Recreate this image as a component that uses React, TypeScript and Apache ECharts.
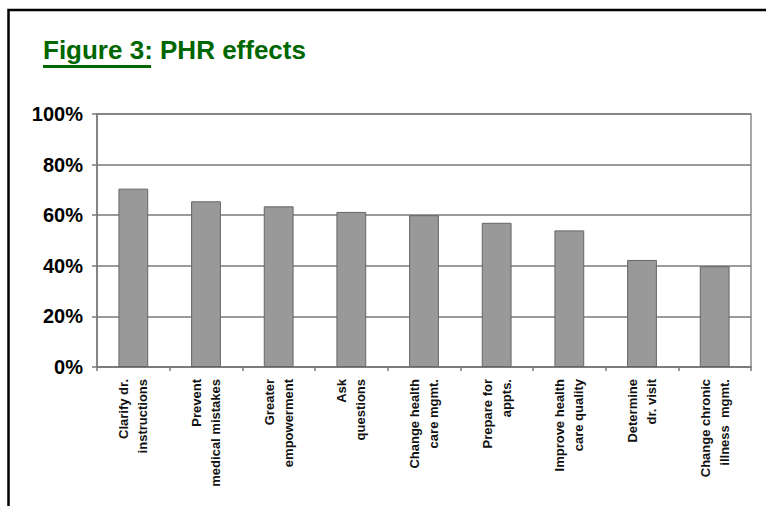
import React, { useEffect, useRef } from "react";
import * as echarts from "echarts";

const categories: string[] = [
  "Clarify dr.\ninstructions",
  "Prevent\nmedical mistakes",
  "Greater\nempowerment",
  "Ask\nquestions",
  "Change health\ncare mgmt.",
  "Prepare for\nappts.",
  "Improve health\ncare quality",
  "Determine\ndr. visit",
  "Change chronic\nillness  mgmt.",
];

const values: number[] = [70.5, 65.5, 63.5, 61.3, 60, 57, 54, 42.3, 39.8];

const yTicks = { min: 0, max: 100, interval: 20 };

const titleMain = "Figure 3:";
const titleRest = " PHR effects";

export default function App() {
  const ref = useRef<HTMLDivElement>(null);

  useEffect(() => {
    document.body.style.margin = "0";
    if (!ref.current) return;
    const chart = echarts.init(ref.current, undefined, { renderer: "svg" });
    const green = "#006600";
    chart.setOption({
      animation: false,
      backgroundColor: "#ffffff",
      grid: {
        left: 97,
        right: 15,
        top: 114,
        bottom: 139,
        show: true,
        borderColor: "#8a8a8a",
        borderWidth: 1.5,
        backgroundColor: "transparent",
      },
      xAxis: {
        type: "category",
        data: categories,
        boundaryGap: true,
        axisLine: { show: true, lineStyle: { color: "#7a7a7a", width: 1.5 } },
        axisTick: { show: true, length: 4, lineStyle: { color: "#7a7a7a", width: 1.5 } },
        axisLabel: {
          interval: 0,
          rotate: 90,
          margin: 12,
          fontFamily: "Liberation Sans, Arial, sans-serif",
          fontSize: 13,
          fontWeight: "bold",
          lineHeight: 19,
          color: "#111111",
        },
      },
      yAxis: {
        type: "value",
        min: yTicks.min,
        max: yTicks.max,
        interval: yTicks.interval,
        axisLine: { show: true, lineStyle: { color: "#7a7a7a", width: 1.5 } },
        axisTick: { show: true, length: 5, lineStyle: { color: "#7a7a7a", width: 1.5 } },
        splitLine: { show: true, lineStyle: { color: "#7a7a7a", width: 1.5 } },
        axisLabel: {
          formatter: "{value}%",
          margin: 14,
          fontFamily: "Liberation Sans, Arial, sans-serif",
          fontSize: 20,
          fontWeight: "bold",
          color: "#000000",
        },
      },
      series: [
        {
          type: "bar",
          data: values,
          barWidth: "41%",
          itemStyle: { color: "#999999", borderColor: "#666666", borderWidth: 1 },
        },
      ],
      graphic: [
        {
          type: "polyline",
          shape: { points: [[8.5, 506], [8.5, 10], [766, 10]] },
          style: { stroke: "#000000", lineWidth: 2.5, fill: "none" },
          z: 100,
        },
        {
          type: "text",
          x: 43,
          y: 50,
          style: {
            text: titleMain + titleRest,
            fill: green,
            fontFamily: "Liberation Sans, Arial, sans-serif",
            fontSize: 26,
            fontWeight: "bold",
            verticalAlign: "middle",
            align: "left",
          },
        },
        {
          type: "rect",
          shape: { x: 43, y: 65, width: 108, height: 3 },
          style: { fill: green },
        },
      ],
    });
    return () => chart.dispose();
  }, []);

  return (
    <div
      ref={ref}
      style={{ position: "absolute", left: 0, top: 0, width: 766, height: 506 }}
    />
  );
}
